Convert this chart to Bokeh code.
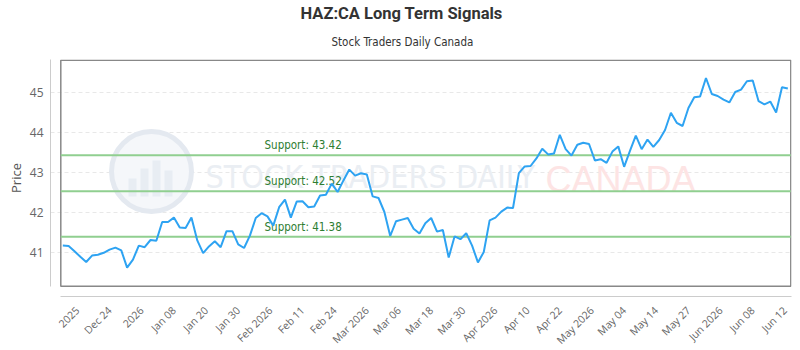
import math
from bokeh.plotting import figure
from bokeh.models import Range1d, FixedTicker, Title
from bokeh.core.properties import value
from bokeh.embed import file_html
from bokeh.resources import INLINE

# ---------------- data ----------------
prices = [
    41.16, 41.15, 41.02, 40.88, 40.75, 40.91, 40.93, 40.98, 41.06, 41.11,
    41.04, 40.61, 40.81, 41.16, 41.12, 41.30, 41.28, 41.75, 41.75, 41.86,
    41.61, 41.60, 41.86, 41.29, 40.97, 41.14, 41.27, 41.12, 41.52, 41.52,
    41.19, 41.10, 41.41, 41.85, 41.97, 41.89, 41.66, 42.12, 42.31, 41.86,
    42.26, 42.27, 42.12, 42.14, 42.41, 42.43, 42.71, 42.50, 42.79, 43.06,
    42.91, 42.97, 42.94, 42.39, 42.35, 42.00, 41.40, 41.77, 41.81, 41.85,
    41.58, 41.46, 41.72, 41.85, 41.51, 41.55, 40.86, 41.39, 41.32, 41.47,
    41.16, 40.74, 41.00, 41.79, 41.86, 42.01, 42.11, 42.10, 42.97, 43.14,
    43.15, 43.34, 43.58, 43.44, 43.46, 43.93, 43.57, 43.41, 43.68, 43.73,
    43.70, 43.29, 43.32, 43.23, 43.51, 43.64, 43.13, 43.53, 43.91, 43.57,
    43.81, 43.63, 43.80, 44.05, 44.48, 44.23, 44.15, 44.60, 44.87, 44.89,
    45.35, 44.95, 44.90, 44.81, 44.74, 45.00, 45.06, 45.27, 45.29, 44.77,
    44.69, 44.76, 44.49, 45.12, 45.09,
]
tick_labels = [
    "2025", "Dec 24", "2026", "Jan 08", "Jan 20", "Jan 30", "Feb 2026",
    "Feb 11", "Feb 24", "Mar 2026", "Mar 06", "Mar 18", "Mar 30", "Apr 2026",
    "Apr 10", "Apr 22", "May 2026", "May 04", "May 14", "May 27", "Jun 2026",
    "Jun 08", "Jun 12",
]
y_ticks = [41, 42, 43, 44, 45]
support_levels = [43.42, 42.52, 41.38]
title_text = "HAZ:CA Long Term Signals"
subtitle_text = "Stock Traders Daily Canada"
y_label = "Price"

# ---------------- geometry helpers ----------------
xs = [2 * i for i in range(len(prices))]
tick_pos = [5 + 11 * k for k in range(len(tick_labels))]

FL, FR, FT, FB = 50, 791, 59, 296     # frame edges in pixels
PX0, PXU = 62.3, 2.9235               # pixel of x=0, pixels per x unit
PY45, PYU = 91.5, 40.0                # pixel of y=45, pixels per y unit
def xd(px):
    return (px - PX0) / PXU
def yd(py):
    return 45 - (py - PY45) / PYU

narrow = "'Liberation Sans Narrow', 'DejaVu Sans Condensed', 'Roboto'"

p = figure(frame_width=FR - FL, frame_height=FB - FT,
           output_backend="svg", toolbar_location=None,
           x_range=Range1d(xd(FL), xd(FR)), y_range=Range1d(yd(FB), yd(FT)),
           min_border_left=FL, min_border_right=800 - FR,
           min_border_bottom=350 - FB, min_border_top=FT)
p.outline_line_color = None
p.background_fill_color = "white"
p.border_fill_color = "white"

# titles (left-aligned with offsets so they sit centred on the page)
p.title.text = title_text
p.title.align = "left"
p.title.offset = 300 - FL
p.title.text_font = "Roboto"
p.title.text_font_size = "16.5px"
p.title.text_font_style = "bold"
p.title.text_color = "#333333"
p.title.standoff = 0
sub = Title(text=subtitle_text, align="left", offset=331 - FL,
            text_font=narrow, text_font_size="11.5px", text_font_style="normal",
            text_color="#333333", standoff=21)
p.add_layout(sub, "above")
ylab = Title(text=y_label, align="center", text_font="Open Sans",
             text_font_size="13px", text_font_style="normal", text_color="#555555",
             standoff=3)
p.add_layout(ylab, "left")

# watermark
p.scatter([xd(151)], [yd(171)], size=80, marker="circle", fill_color="#f5f7fa",
          line_color="#e4e9f0", line_width=5)
bar_l = [xd(v) for v in (128, 140, 152, 164)]
bar_r = [xd(v) for v in (136, 148, 160, 172)]
bar_t = [yd(v) for v in (178, 168, 160, 170)]
p.quad(left=bar_l, right=bar_r, top=bar_t, bottom=[yd(196)] * 4,
       fill_color="#e8edf3", line_color=None)
p.text([xd(205)], [yd(176)], text=["STOCK TRADERS DAILY"], text_font=value(narrow),
       text_font_size="32px", text_color="#eaeef3", text_baseline="middle",
       text_align="left")
p.text([xd(545)], [yd(179)], text=["CANADA"], text_font=value("Liberation Sans"),
       text_font_size="36px", text_color="#fde4e4", text_baseline="middle",
       text_align="left")

# inner box
p.quad(left=[xd(60.3)], right=[xd(790.3)], top=[yd(59.7)], bottom=[yd(285.7)],
       fill_color=None, line_color="#888888", line_width=1.5)

# support lines
for s in support_levels:
    p.segment(x0=[xd(60.3)], x1=[xd(790.3)], y0=[s], y1=[s],
              line_color="#90cf90", line_width=2)
    p.text([xd(264)], [s], text=[f"Support: {s:.2f}"], text_font=value(narrow),
           text_font_size="11.5px", text_color="#2e7d32", text_baseline="bottom",
           text_align="left", y_offset=-3)

# price line
p.line(xs, prices, line_color="#2ea3f2", line_width=2)

# axes
p.xaxis.ticker = FixedTicker(ticks=tick_pos)
p.xaxis.major_label_overrides = {t: l for t, l in zip(tick_pos, tick_labels)}
p.xaxis.major_label_orientation = math.pi / 4
p.xaxis.bounds = (xd(60.3), xd(FR))
p.yaxis.ticker = FixedTicker(ticks=y_ticks)
p.yaxis.bounds = (yd(285.7), yd(FT))
for ax in (p.xaxis, p.yaxis):
    ax.axis_line_color = "#cccccc"
    ax.major_tick_line_color = None
    ax.minor_tick_line_color = None
    ax.major_tick_out = 0
    ax.major_tick_in = 0
    ax.minor_tick_out = 0
    ax.minor_tick_in = 0
    ax.major_label_text_color = "#666666"
    ax.major_label_text_font = "Open Sans"
p.xaxis.major_label_text_font_size = "10.5px"
p.xaxis.major_label_standoff = 12
p.yaxis.major_label_text_font_size = "12px"
p.yaxis.major_label_standoff = 7

p.xgrid.grid_line_color = None
p.ygrid.grid_line_color = "#e8e8e8"
p.ygrid.grid_line_dash = "4 3"

open("out.html", "w").write(file_html(p, INLINE))
